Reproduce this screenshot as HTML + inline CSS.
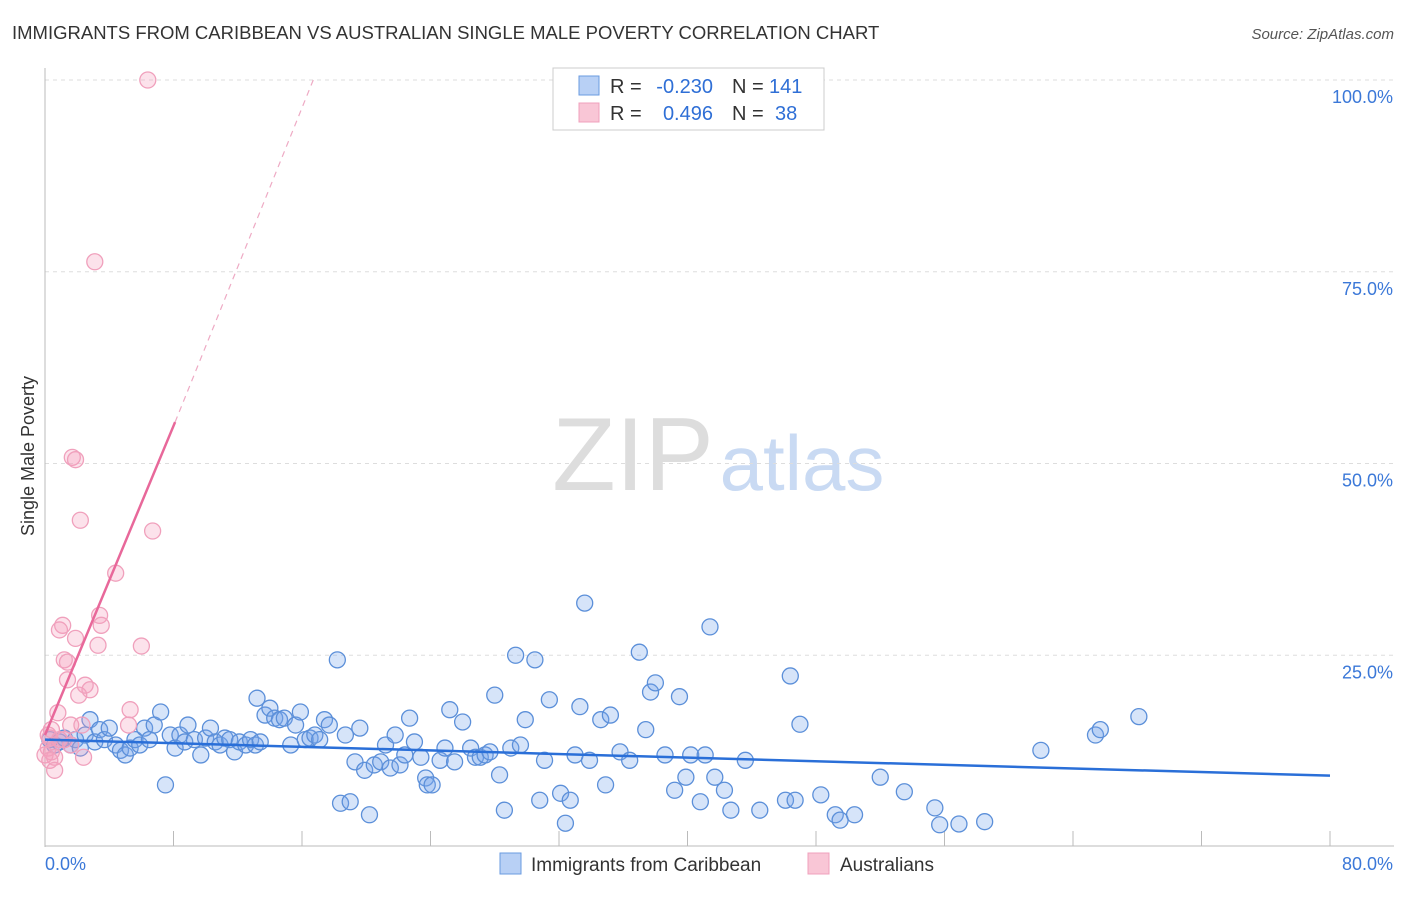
<!DOCTYPE html>
<html><head><meta charset="utf-8"><style>
body{margin:0;background:#fff;font-family:"Liberation Sans",sans-serif}
svg text{font-family:"Liberation Sans",sans-serif}
</style></head><body>
<svg id="c" width="1406" height="892">
<text x="12" y="39" font-size="18.5" fill="#333">IMMIGRANTS FROM CARIBBEAN VS AUSTRALIAN SINGLE MALE POVERTY CORRELATION CHART</text>
<text x="1394" y="39" font-size="15" fill="#555" font-style="italic" text-anchor="end">Source: ZipAtlas.com</text>
<text x="34" y="456" font-size="18" fill="#333" text-anchor="middle" transform="rotate(-90 34 456)">Single Male Poverty</text>
<g><text x="633" y="490" font-size="104" fill="#ddd" font-family="Liberation Serif" text-anchor="middle">ZIP</text><text x="802" y="490" font-size="78" fill="#c9daf3" text-anchor="middle">atlas</text></g>
<g id="grid"></g><g id="axes"></g><g id="marks"></g>
<g>
<rect x="553" y="68" width="271" height="62" fill="#fff" stroke="#ccc"/>
<rect x="579" y="76" width="20" height="19" fill="#b8d0f5" stroke="#6a9be0"/>
<text x="610" y="93" font-size="20" fill="#333">R =</text>
<text x="713" y="93" font-size="20" fill="#2f6fd6" text-anchor="end">-0.230</text>
<text x="732" y="93" font-size="20" fill="#333">N =</text>
<text x="769" y="93" font-size="20" fill="#2f6fd6">141</text>
<rect x="579" y="103" width="20" height="19" fill="#f9c6d6" stroke="#f0a0bc"/>
<text x="610" y="120" font-size="20" fill="#333">R =</text>
<text x="713" y="120" font-size="20" fill="#2f6fd6" text-anchor="end">0.496</text>
<text x="732" y="120" font-size="20" fill="#333">N =</text>
<text x="775" y="120" font-size="20" fill="#2f6fd6">38</text>
</g>
<g>
<rect x="500" y="853" width="21" height="21" fill="#b8d0f5" stroke="#6a9be0"/>
<text x="531" y="871" font-size="19" fill="#333">Immigrants from Caribbean</text>
<rect x="808" y="853" width="21" height="21" fill="#f9c6d6" stroke="#f0a0bc"/>
<text x="840" y="871" font-size="19" fill="#333">Australians</text>
</g>
</svg>
<script>
const blueX=[0.3,0.6,0.9,1.2,1.6,1.9,2.2,2.5,2.8,3.1,3.4,3.7,4.0,4.4,4.7,5.0,5.3,5.6,5.9,6.2,6.5,6.8,7.2,7.5,7.8,8.1,8.4,8.7,8.9,9.3,9.7,10.0,10.3,10.6,10.9,11.2,11.5,11.8,12.1,12.5,12.8,13.1,13.4,13.2,13.7,14.0,14.3,14.6,14.9,15.3,15.6,15.9,16.2,16.5,16.8,17.1,17.4,17.7,18.2,18.4,18.7,19.0,19.3,19.6,19.9,20.2,20.5,20.9,21.2,21.5,21.8,22.1,22.4,22.7,23.0,23.4,23.7,23.8,24.1,24.6,24.9,25.2,25.5,26.0,26.5,26.8,27.1,27.4,27.7,28.0,28.3,28.6,29.0,29.3,29.6,29.9,30.5,30.8,31.1,31.4,32.1,32.4,32.7,33.0,33.3,33.6,33.9,34.6,34.9,35.2,35.8,36.4,37.0,37.4,37.7,38.0,38.6,39.2,39.5,39.9,40.2,40.8,41.1,41.4,41.7,42.3,42.7,43.6,44.5,46.1,46.4,46.7,47.0,48.3,49.2,49.5,50.4,52.0,53.5,55.4,55.7,56.9,58.5,62.0,65.4,65.7,68.1];
const blueY=[14.0,13.3,13.7,14.2,13.3,14.0,12.9,14.6,16.6,13.7,15.3,14.0,15.5,13.3,12.6,12.0,12.9,14.0,13.3,15.5,14.0,15.9,17.6,8.1,14.6,12.9,14.6,13.7,15.9,14.0,12.0,14.2,15.5,13.7,13.3,14.2,14.0,12.4,13.7,13.3,14.0,13.3,13.7,19.4,17.2,18.1,16.8,16.6,16.8,13.3,15.9,17.6,14.0,14.2,14.6,14.0,16.6,15.9,24.4,5.7,14.6,5.9,11.1,15.5,10.0,4.2,10.7,11.1,13.3,10.3,14.6,10.7,12.0,16.8,13.7,11.7,9.0,8.1,8.1,11.3,12.9,17.9,11.1,16.3,12.9,11.7,11.7,12.0,12.4,19.8,9.4,4.8,12.9,25.0,13.3,16.6,24.4,6.1,11.3,19.2,7.0,3.1,6.1,12.0,18.3,31.8,11.3,16.6,8.1,17.2,12.4,11.3,25.4,15.3,20.2,21.4,12.0,7.4,19.6,9.1,12.0,5.9,12.0,28.7,9.1,7.4,4.8,11.3,4.8,6.1,22.3,6.1,16.0,6.8,4.2,3.5,4.2,9.1,7.2,5.1,2.9,3.0,3.3,12.6,14.6,15.3,17.0];
const pinkX=[6.4,3.1,1.7,1.9,2.2,6.7,4.4,1.1,0.9,3.4,3.5,3.3,1.9,6.0,1.2,1.4,1.4,2.8,2.1,2.5,5.3,0.8,1.6,2.3,5.2,0.3,0.2,0.4,0.6,0.9,0.0,0.3,0.6,2.4,1.2,0.2,0.4,1.6];
const pinkY=[100,76.3,50.8,50.5,42.6,41.2,35.7,28.9,28.3,30.2,28.9,26.3,27.2,26.2,24.4,24.1,21.8,20.5,19.8,21.1,17.9,17.5,15.9,15.9,15.9,14.2,12.9,12.4,11.7,14.0,12.0,11.3,10.0,11.7,14.0,14.6,15.3,13.3];
const yTicks=[25,50,75,100];
const yTickLabels=["25.0%","50.0%","75.0%","100.0%"];
const xTicks=[0,8,16,24,32,40,48,56,64,72,80];
const blueTrend=[[0,14.0],[80,9.3]];
const pinkTrend=[[0,14.6],[8.1,55.4]];
const pinkDash=[[8.1,55.4],[16.7,100]];
const X=v=>45+v/80*1285, Y=v=>847-v/100*767;
const NS="http://www.w3.org/2000/svg";
function mk(p,t,a){const e=document.createElementNS(NS,t);for(const k in a)e.setAttribute(k,a[k]);p.appendChild(e);return e;}
const g=document.getElementById('grid'),ax=document.getElementById('axes'),m=document.getElementById('marks');
yTicks.forEach((t,i)=>{const l=mk(g,'line',{x1:45,x2:1394,y1:Y(t),y2:Y(t),stroke:'#ddd','stroke-dasharray':'4,4'});


const tx=mk(ax,'text',{x:1393,y:Y(t)+23,'font-size':18,fill:'#3b78d8','text-anchor':'end'});tx.textContent=yTickLabels[i];

});
const yl=mk(ax,'line',{x1:45,x2:45,y1:68,y2:847,stroke:'#bbb'});


const xl=mk(ax,'line',{x1:45,x2:1394,y1:846,y2:846,stroke:'#bbb'});


xTicks.forEach(t=>{const l=mk(ax,'line',{x1:X(t),x2:X(t),y1:831,y2:846,stroke:'#bbb'});

});
[["0.0%",45,'start'],["80.0%",1393,'end']].forEach(a=>{const t=mk(ax,'text',{x:a[1],y:870,'font-size':18,fill:'#3b78d8','text-anchor':a[2]});t.textContent=a[0];

});
blueX.forEach((x,i)=>{const c=mk(m,'circle',{cx:X(x),cy:Y(blueY[i]),r:8,fill:'rgba(120,165,235,0.3)',stroke:'#5b8fd9','stroke-width':1.3});

});
pinkX.forEach((x,i)=>{const c=mk(m,'circle',{cx:X(x),cy:Y(pinkY[i]),r:8,fill:'rgba(245,160,190,0.3)',stroke:'#f0a0bc','stroke-width':1.3});

});
let l1=mk(m,'line',{x1:X(blueTrend[0][0]),y1:Y(blueTrend[0][1]),x2:X(blueTrend[1][0]),y2:Y(blueTrend[1][1]),stroke:'#2a6fd8','stroke-width':2.5});


let l2=mk(m,'line',{x1:X(pinkTrend[0][0]),y1:Y(pinkTrend[0][1]),x2:X(pinkTrend[1][0]),y2:Y(pinkTrend[1][1]),stroke:'#e8689a','stroke-width':2.5});


let l3=mk(m,'line',{x1:X(pinkDash[0][0]),y1:Y(pinkDash[0][1]),x2:X(pinkDash[1][0]),y2:Y(pinkDash[1][1]),stroke:'#eeaac4','stroke-width':1.2,'stroke-dasharray':'6,5'});


</script>
</body></html>
